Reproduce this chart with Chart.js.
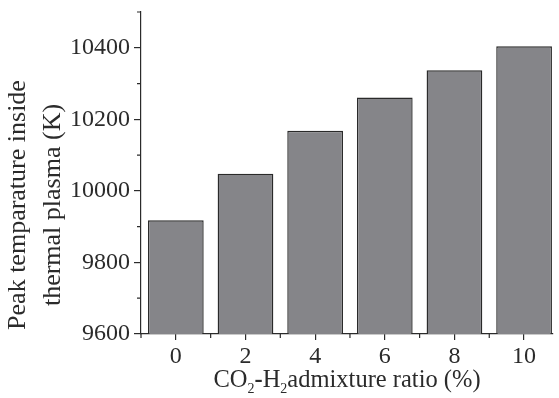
<!DOCTYPE html>
<html lang="en">
<head>
  <meta charset="UTF-8" />
  <title>Peak temperature vs CO2-H2 admixture ratio</title>
  <script src="https://cdn.jsdelivr.net/npm/chart.js"></script>
  <style>
    html, body { margin: 0; padding: 0; background: #fff; }
  </style>
</head>
<body>
  <canvas id="chart" width="559" height="398"></canvas>

  <script>
    // data
    const ratios = [0, 2, 4, 6, 8, 10];
    const peakTemps = [9918, 10048, 10168, 10261, 10337, 10404];
    const xTicks = [0, 2, 4, 6, 8, 10];
    const xMinorTicks = [-1, 1, 3, 5, 7, 9];
    const yTicks = [9600, 9800, 10000, 10200, 10400];
    const yMinorTicks = [9700, 9900, 10100, 10300, 10500];
    const yTitle = ['Peak temparature inside', 'thermal plasma (K)'];
    const xTitle = [
      { t: 'CO' }, { t: '2', sub: true }, { t: '-', bold: true },
      { t: 'H' }, { t: '2', sub: true }, { t: 'admixture ratio (%)' }
    ];

    const FONT = "'Liberation Serif', 'Times New Roman', serif";
    const INK = '#2b2b2b';

    // minor ticks + axis titles drawn by hand
    const extras = {
      id: 'extras',
      afterDraw(chart) {
        const { ctx, scales: { x, y }, chartArea } = chart;
        ctx.save();
        ctx.strokeStyle = INK;
        ctx.lineWidth = 1.2;
        ctx.beginPath();
        xMinorTicks.forEach(v => {
          const px = x.getPixelForValue(v);
          ctx.moveTo(px, x.top);
          ctx.lineTo(px, x.top + 4);
        });
        yMinorTicks.forEach(v => {
          const py = y.getPixelForValue(v);
          ctx.moveTo(y.right, py);
          ctx.lineTo(y.right - 4, py);
        });
        ctx.stroke();

        ctx.fillStyle = INK;

        // y title, two rotated lines
        ctx.save();
        ctx.translate(0, 205);
        ctx.rotate(-Math.PI / 2);
        ctx.font = '26px ' + FONT;
        ctx.textAlign = 'center';
        ctx.textBaseline = 'alphabetic';
        ctx.fillText(yTitle[0], 0, 25);
        ctx.fillText(yTitle[1], 0, 60);
        ctx.restore();

        // x title with subscripts
        const main = '24.5px ' + FONT, sub = '14px ' + FONT, bold = 'bold 24.5px ' + FONT;
        const fontOf = s => s.sub ? sub : (s.bold ? bold : main);
        let total = 0;
        xTitle.forEach(s => { ctx.font = fontOf(s); total += ctx.measureText(s.t).width; });
        let cx = (chartArea.left + chartArea.right) / 2 - total / 2;
        const base = 387;
        ctx.textAlign = 'left';
        ctx.textBaseline = 'alphabetic';
        xTitle.forEach(s => {
          ctx.font = fontOf(s);
          ctx.fillText(s.t, cx, s.sub ? base + 6 : base);
          cx += ctx.measureText(s.t).width;
        });
        ctx.restore();
      }
    };

    new Chart(document.getElementById('chart'), {
      type: 'bar',
      data: {
        datasets: [{
          data: ratios.map((r, i) => ({ x: r, y: peakTemps[i] })),
          backgroundColor: '#858589',
          borderColor: '#2a2a2a',
          borderWidth: 1.4,
          barPercentage: 0.8,
          categoryPercentage: 1
        }]
      },
      options: {
        responsive: false,
        animation: false,
        layout: { padding: { top: 12, right: 6, left: 0, bottom: 0 } },
        plugins: { legend: { display: false }, tooltip: { enabled: false } },
        scales: {
          x: {
            type: 'linear',
            min: -1,
            max: 10.83,
            offset: false,
            afterBuildTicks: s => { s.ticks = xTicks.map(v => ({ value: v })); },
            afterFit: s => { s.height = 64; },
            ticks: { font: { family: FONT, size: 24 }, color: INK, padding: 2, maxRotation: 0, autoSkip: false },
            grid: { display: true, offset: false, drawOnChartArea: false, tickLength: 6, color: INK, lineWidth: 1.2 },
            border: { display: true, color: INK, width: 1.2 }
          },
          y: {
            min: 9600,
            max: 10500,
            afterBuildTicks: s => { s.ticks = yTicks.map(v => ({ value: v })); },
            afterFit: s => { s.width = 141; s.paddingTop = 0; s.paddingBottom = 0; },
            ticks: { font: { family: FONT, size: 24 }, color: INK, padding: 4, callback: v => String(v) },
            grid: { display: true, drawOnChartArea: false, tickLength: 7, color: INK, lineWidth: 1.2 },
            border: { display: true, color: INK, width: 1.2 }
          }
        }
      },
      plugins: [extras]
    });
  </script>
</body>
</html>
